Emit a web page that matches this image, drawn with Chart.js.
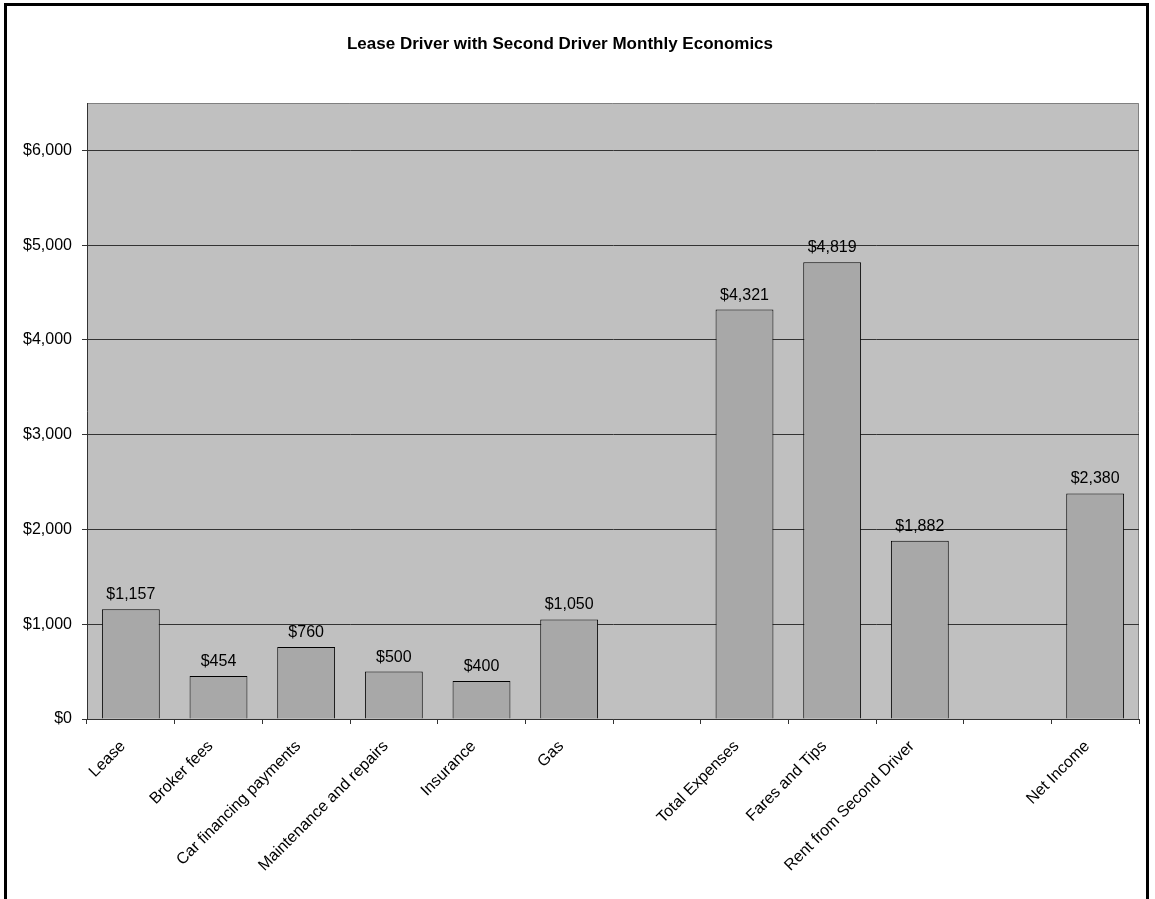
<!DOCTYPE html>
<html>
<head>
<meta charset="utf-8">
<script src="https://cdn.jsdelivr.net/npm/chart.js@4.4.1/dist/chart.umd.min.js"></script>
<style>
  html, body { margin: 0; padding: 0; background: #fff; overflow: hidden; }
  #wrap { position: relative; width: 1155px; height: 899px; }
  #frame { position: absolute; left: 4px; top: 3px; width: 1145px; height: 910px; border: 3px solid #000; box-sizing: border-box; pointer-events: none; }
  canvas { position: absolute; left: 0; top: 0; }
</style>
</head>
<body>
<div id="wrap">
  <canvas id="chart" width="1155" height="899"></canvas>
  <div id="frame"></div>
</div>
<script>
// ---- data ----
const categories = [
    'Lease', 'Broker fees', 'Car financing payments', 'Maintenance and repairs',
    'Insurance', 'Gas', '', 'Total Expenses', 'Fares and Tips',
    'Rent from Second Driver', '', 'Net Income'
];
const amounts = [1157, 454, 760, 500, 400, 1050, null, 4321, 4819, 1882, null, 2380];
const yTicks = [0, 1000, 2000, 3000, 4000, 5000, 6000];
const chartTitle = 'Lease Driver with Second Driver Monthly Economics';

const money = v => '$' + v.toLocaleString('en-US');
const FONT = 'Arial, "Liberation Sans", sans-serif';

// plot background + grey frame on top/right
const plotBg = {
    id: 'plotBg',
    beforeDraw(chart) {
        const { ctx, chartArea: a } = chart;
        ctx.save();
        ctx.fillStyle = '#c0c0c0';
        ctx.fillRect(a.left, a.top, a.right - a.left, a.bottom - a.top);
        ctx.strokeStyle = '#808080';
        ctx.lineWidth = 1;
        ctx.beginPath();
        ctx.moveTo(a.left, a.top + 0.5);
        ctx.lineTo(a.right - 0.5, a.top + 0.5);
        ctx.lineTo(a.right - 0.5, a.bottom);
        ctx.stroke();
        ctx.restore();
    }
};

// title (drawn a bit left of centre, like the original)
const titleText = {
    id: 'titleText',
    afterDraw(chart) {
        const { ctx } = chart;
        ctx.save();
        ctx.font = 'bold 17px ' + FONT;
        ctx.fillStyle = '#000';
        ctx.textAlign = 'center';
        ctx.textBaseline = 'middle';
        ctx.fillText(chartTitle, 560, 44);
        ctx.restore();
    }
};

// value labels above each bar
const valueLabels = {
    id: 'valueLabels',
    afterDatasetsDraw(chart) {
        const { ctx } = chart;
        const meta = chart.getDatasetMeta(0);
        ctx.save();
        ctx.font = '16px ' + FONT;
        ctx.fillStyle = '#000';
        ctx.textAlign = 'center';
        ctx.textBaseline = 'alphabetic';
        meta.data.forEach((bar, i) => {
            const v = amounts[i];
            if (v == null) return;
            ctx.fillText(money(v), bar.x, bar.y - 10);
        });
        ctx.restore();
    }
};

new Chart(document.getElementById('chart'), {
    type: 'bar',
    data: {
        labels: categories,
        datasets: [{
            data: amounts,
            backgroundColor: '#a8a8a8',
            borderColor: '#000',
            borderWidth: 1,
            categoryPercentage: 1,
            barPercentage: 0.66
        }]
    },
    options: {
        responsive: false,
        animation: false,
        layout: { padding: { left: 0, right: 16, top: 103, bottom: 0 } },
        plugins: {
            legend: { display: false },
            tooltip: { enabled: false },
            title: { display: false }
        },
        scales: {
            x: {
                offset: true,
                grid: { drawOnChartArea: false, drawTicks: true, tickLength: 5, color: '#333', offset: true },
                border: { color: '#333', width: 1 },
                ticks: {
                    color: '#000',
                    font: { family: FONT, size: 16 },
                    minRotation: 45,
                    maxRotation: 45,
                    autoSkip: false,
                    padding: 13,
                    labelOffset: -8
                },
                afterFit(scale) { scale.height = 180; }
            },
            y: {
                min: 0,
                max: 6500,
                grid: { color: '#333', tickLength: 5, drawTicks: true },
                border: { color: '#333', width: 1 },
                ticks: {
                    stepSize: 1000,
                    color: '#000',
                    font: { family: FONT, size: 16 },
                    padding: 10,
                    callback: v => money(v)
                },
                afterBuildTicks(scale) {
                    scale.ticks = yTicks.map(v => ({ value: v }));
                },
                afterFit(scale) { scale.width = 87; }
            }
        }
    },
    plugins: [plotBg, valueLabels, titleText]
});
</script>
</body>
</html>
